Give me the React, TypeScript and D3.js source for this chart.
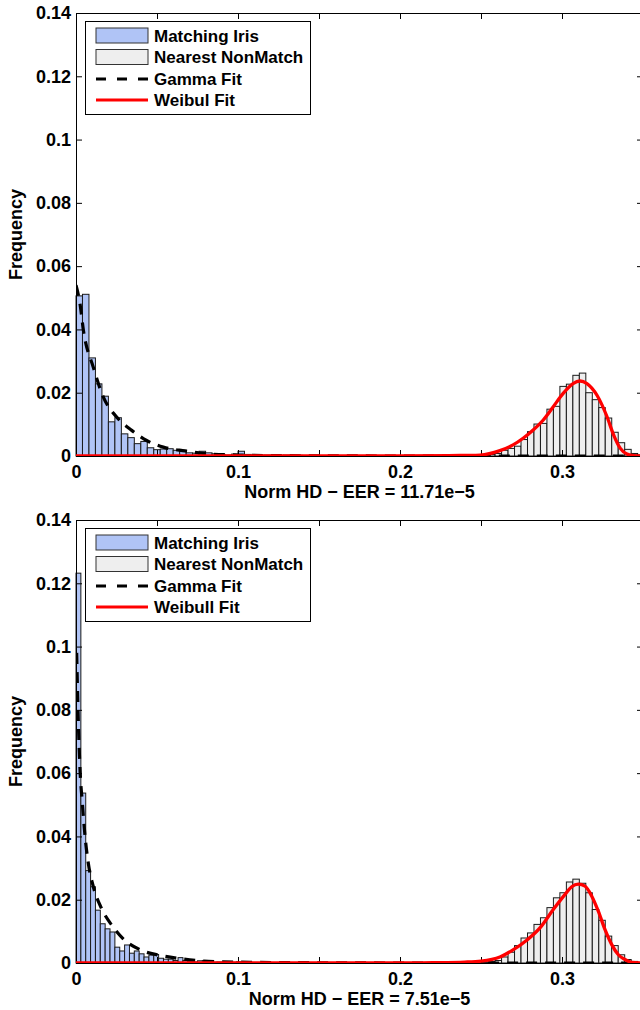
import React, { useEffect, useRef } from "react";
import * as d3 from "d3";

// shared axis settings
const X_TICKS = [0, 0.05, 0.1, 0.15, 0.2, 0.25, 0.3, 0.35];
const X_TICK_LABELS = ["0", "", "0.1", "", "0.2", "", "0.3", ""];
const Y_TICKS = [0, 0.02, 0.04, 0.06, 0.08, 0.1, 0.12, 0.14];
const Y_TICK_LABELS = ["0", "0.02", "0.04", "0.06", "0.08", "0.1", "0.12", "0.14"];
const NONMATCH_START = 0.2427;
const NONMATCH_BIN = 0.004;

// top panel
const TOP_MATCH_BIN = 0.004;
const TOP_MATCHING = [
  0.0506, 0.0511, 0.031, 0.0228, 0.0189, 0.0108, 0.0121, 0.007, 0.0058, 0.0039,
  0.0046, 0.0026, 0.002, 0.0022, 0.0023, 0.0018, 0.0016, 0.001, 0.0009, 0.0015,
  0.001, 0.0007, 0.0005, 0.0003, 0.0006, 0.0015, 0.0005, 0.0003, 0.0002, 0.0003,
  0.0001, 0.0002, 0.0003, 0.0001, 0.0002, 0.0001, 0.0002, 0.0001, 0.0001, 0.0001,
];
const TOP_NONMATCH = [
  0.0001, 0.0002, 0.0003, 0.0005, 0.0008, 0.0018, 0.0024, 0.0031, 0.0052, 0.0077,
  0.0101, 0.0103, 0.0148, 0.0157, 0.022, 0.0227, 0.0255, 0.0262, 0.02, 0.0178,
  0.0153, 0.012, 0.0075, 0.0042, 0.0021, 0.0008, 0.0002,
];
const TOP_GAMMA_X = [0, 0.0025, 0.0045, 0.0107, 0.0169, 0.0251, 0.0344, 0.0436, 0.0539, 0.0673, 0.0807, 0.1, 0.13, 0.2, 0.35];
const TOP_GAMMA_Y = [0.054, 0.048, 0.04, 0.028, 0.0186, 0.0123, 0.0081, 0.0049, 0.0028, 0.0016, 0.0007, 0.0003, 0.0001, 0, 0];
const TOP_WEIBULL_X = [0, 0.2, 0.23, 0.24, 0.2494, 0.2617, 0.2698, 0.276, 0.2822, 0.2883, 0.2945, 0.3006, 0.3068, 0.3111, 0.3154, 0.3216, 0.3278, 0.3319, 0.336, 0.3401, 0.3443, 0.35];
const TOP_WEIBULL_Y = [0, 0, 0.0001, 0.0002, 0.0003, 0.0017, 0.0035, 0.0056, 0.0082, 0.0113, 0.0155, 0.0197, 0.0229, 0.0237, 0.0229, 0.0192, 0.0124, 0.0066, 0.0024, 0.0006, 0.0001, 0];
const TOP_XLABEL = "Norm HD \u2212 EER = 11.71e\u22125";
const TOP_LEGEND = ["Matching Iris", "Nearest NonMatch", "Gamma Fit", "Weibul Fit"];

// bottom panel
const BOT_MATCH_BIN = 0.003;
const BOT_MATCHING = [
  0.1232, 0.0537, 0.0292, 0.0241, 0.0167, 0.0124, 0.0108, 0.0098, 0.005, 0.0038,
  0.0057, 0.0031, 0.0038, 0.0029, 0.0019, 0.0025, 0.0027, 0.0015, 0.0012, 0.0012,
  0.0008, 0.0017, 0.0008, 0.0004, 0.0003, 0.0007, 0.0008, 0.0003, 0.0002, 0.0003,
  0.0001, 0.0002, 0.0002, 0.0004, 0.0001, 0.0002, 0.0001, 0.0001, 0.0001, 0.0001,
];
const BOT_NONMATCH = [
  0.0001, 0.0002, 0.0003, 0.0005, 0.0008, 0.0019, 0.0034, 0.0055, 0.0079, 0.0095,
  0.0122, 0.0143, 0.0175, 0.0206, 0.0222, 0.0256, 0.0265, 0.0252, 0.0222, 0.0169,
  0.0135, 0.0085, 0.0055, 0.0026, 0.0011, 0.0005,
];
const BOT_GAMMA_X = [0.0004, 0.0014, 0.0025, 0.0039, 0.0056, 0.0076, 0.0107, 0.0158, 0.022, 0.029, 0.0395, 0.052, 0.064, 0.0765, 0.089, 0.11, 0.14, 0.2, 0.35];
const BOT_GAMMA_Y = [0.098, 0.077, 0.061, 0.0506, 0.04, 0.0315, 0.0241, 0.0172, 0.012, 0.0077, 0.0042, 0.0024, 0.0014, 0.0007, 0.0004, 0.0002, 0.0001, 0, 0];
const BOT_WEIBULL_X = [0, 0.2, 0.22, 0.24, 0.25, 0.2617, 0.27, 0.2782, 0.2864, 0.2946, 0.3019, 0.306, 0.3101, 0.3142, 0.3183, 0.3224, 0.3265, 0.3307, 0.3348, 0.3389, 0.343, 0.35];
const BOT_WEIBULL_Y = [0, 0, 0.0001, 0.0003, 0.0006, 0.0019, 0.0042, 0.0072, 0.0111, 0.0169, 0.0217, 0.0241, 0.0249, 0.0243, 0.0212, 0.0164, 0.0106, 0.0058, 0.0026, 0.0011, 0.0002, 0];
const BOT_XLABEL = "Norm HD \u2212 EER = 7.51e\u22125";
const BOT_LEGEND = ["Matching Iris", "Nearest NonMatch", "Gamma Fit", "Weibull Fit"];

const FONT = "'Liberation Sans', Arial, Helvetica, sans-serif";
const BLUE = "#b0c4f6";
const GREY = "#eeeeee";

function drawPanel(svg, p, top, id) {
  const x = d3.scaleLinear().domain([0, 0.35]).range([76, 643]);
  const y = d3.scaleLinear().domain([0, 0.14]).range([top + 443, top]);
  const bw = (b) => x(b) - x(0);
  const g = svg.append("g");

  g.append("clipPath").attr("id", id).append("rect")
    .attr("x", 76).attr("y", top).attr("width", 567).attr("height", 443);

  g.append("g").selectAll("rect").data(p.matching).join("rect")
    .attr("x", (d, i) => x(i * p.matchBin))
    .attr("y", (d) => y(d))
    .attr("width", bw(p.matchBin))
    .attr("height", (d) => y(0) - y(d))
    .attr("fill", BLUE).attr("stroke", "#1a1a1a").attr("stroke-width", 1);

  g.append("g").selectAll("rect").data(p.nonmatch).join("rect")
    .attr("x", (d, i) => x(NONMATCH_START + i * NONMATCH_BIN))
    .attr("y", (d) => y(d))
    .attr("width", bw(NONMATCH_BIN))
    .attr("height", (d) => y(0) - y(d))
    .attr("fill", GREY).attr("stroke", "#1a1a1a").attr("stroke-width", 1);

  // axes with inward ticks on all sides
  const fmtX = (d, i) => X_TICK_LABELS[i];
  const fmtY = (d, i) => Y_TICK_LABELS[i];
  const axes = [
    g.append("g").attr("transform", `translate(0,${y(0)})`)
      .call(d3.axisBottom(x).tickValues(X_TICKS).tickFormat(fmtX).tickSizeInner(-6).tickSizeOuter(0).tickPadding(9)),
    g.append("g").attr("transform", `translate(0,${top})`)
      .call(d3.axisTop(x).tickValues(X_TICKS).tickFormat(() => "").tickSizeInner(-6).tickSizeOuter(0)),
    g.append("g").attr("transform", "translate(76,0)")
      .call(d3.axisLeft(y).tickValues(Y_TICKS).tickFormat(fmtY).tickSizeInner(-6).tickSizeOuter(0).tickPadding(5)),
    g.append("g").attr("transform", "translate(643,0)")
      .call(d3.axisRight(y).tickValues(Y_TICKS).tickFormat(() => "").tickSizeInner(-6).tickSizeOuter(0)),
  ];
  axes.forEach((a) => {
    a.select(".domain").remove();
    a.attr("font-family", FONT).attr("font-size", 18).attr("font-weight", "bold");
    a.selectAll("text").attr("fill", "#000");
  });

  g.append("rect").attr("x", 76.5).attr("y", top + 0.5).attr("width", 567).attr("height", 443)
    .attr("fill", "none").attr("stroke", "#000");

  const line = d3.line().x((d) => x(d[0])).y((d) => y(d[1])).curve(d3.curveMonotoneX);
  g.append("path").datum(d3.zip(p.gammaX, p.gammaY)).attr("d", line)
    .attr("clip-path", `url(#${id})`)
    .attr("fill", "none").attr("stroke", "#000").attr("stroke-width", 3.2).attr("stroke-dasharray", "11,8");
  g.append("path").datum(d3.zip(p.weibullX, p.weibullY)).attr("d", line)
    .attr("clip-path", `url(#${id})`)
    .attr("fill", "none").attr("stroke", "#ff0000").attr("stroke-width", 3.3);

  // legend
  const lg = g.append("g").attr("transform", `translate(85,${top + 8})`);
  lg.append("rect").attr("x", 0.5).attr("y", 0.5).attr("width", 225).attr("height", 93)
    .attr("fill", "#fff").attr("stroke", "#000");
  const rows = [14.5, 36, 58, 79];
  p.legend.forEach((name, i) => {
    const cy = rows[i];
    if (i < 2) {
      lg.append("rect").attr("x", 11).attr("y", cy - 7.5).attr("width", 52).attr("height", 15)
        .attr("fill", i === 0 ? BLUE : GREY).attr("stroke", "#333");
    } else {
      lg.append("line").attr("x1", 11).attr("x2", 63).attr("y1", cy).attr("y2", cy)
        .attr("stroke", i === 2 ? "#000" : "#ff0000").attr("stroke-width", 3)
        .attr("stroke-dasharray", i === 2 ? "10,11" : null);
    }
    lg.append("text").attr("x", 69).attr("y", cy + 6).text(name)
      .attr("font-family", FONT).attr("font-size", 17).attr("font-weight", "bold");
  });

  svg.append("text").attr("x", 359.5).attr("y", top + 443 + 42).attr("text-anchor", "middle")
    .attr("font-family", FONT).attr("font-size", 18).attr("font-weight", "bold").text(p.xlabel);
  svg.append("text").attr("transform", `translate(22,${top + 221.5}) rotate(-90)`).attr("text-anchor", "middle")
    .attr("font-family", FONT).attr("font-size", 18).attr("font-weight", "bold").text("Frequency");
}

export default function App() {
  const ref = useRef(null);
  useEffect(() => {
    const svg = d3.select(ref.current);
    svg.selectAll("*").remove();
    drawPanel(svg, {
      matching: TOP_MATCHING, matchBin: TOP_MATCH_BIN, nonmatch: TOP_NONMATCH,
      gammaX: TOP_GAMMA_X, gammaY: TOP_GAMMA_Y, weibullX: TOP_WEIBULL_X, weibullY: TOP_WEIBULL_Y,
      xlabel: TOP_XLABEL, legend: TOP_LEGEND,
    }, 13, "clipTop");
    drawPanel(svg, {
      matching: BOT_MATCHING, matchBin: BOT_MATCH_BIN, nonmatch: BOT_NONMATCH,
      gammaX: BOT_GAMMA_X, gammaY: BOT_GAMMA_Y, weibullX: BOT_WEIBULL_X, weibullY: BOT_WEIBULL_Y,
      xlabel: BOT_XLABEL, legend: BOT_LEGEND,
    }, 520, "clipBot");
  }, []);
  return (
    <svg ref={ref} width={640} height={1010}
      style={{ position: "absolute", left: 0, top: 0, background: "#fff" }} />
  );
}
